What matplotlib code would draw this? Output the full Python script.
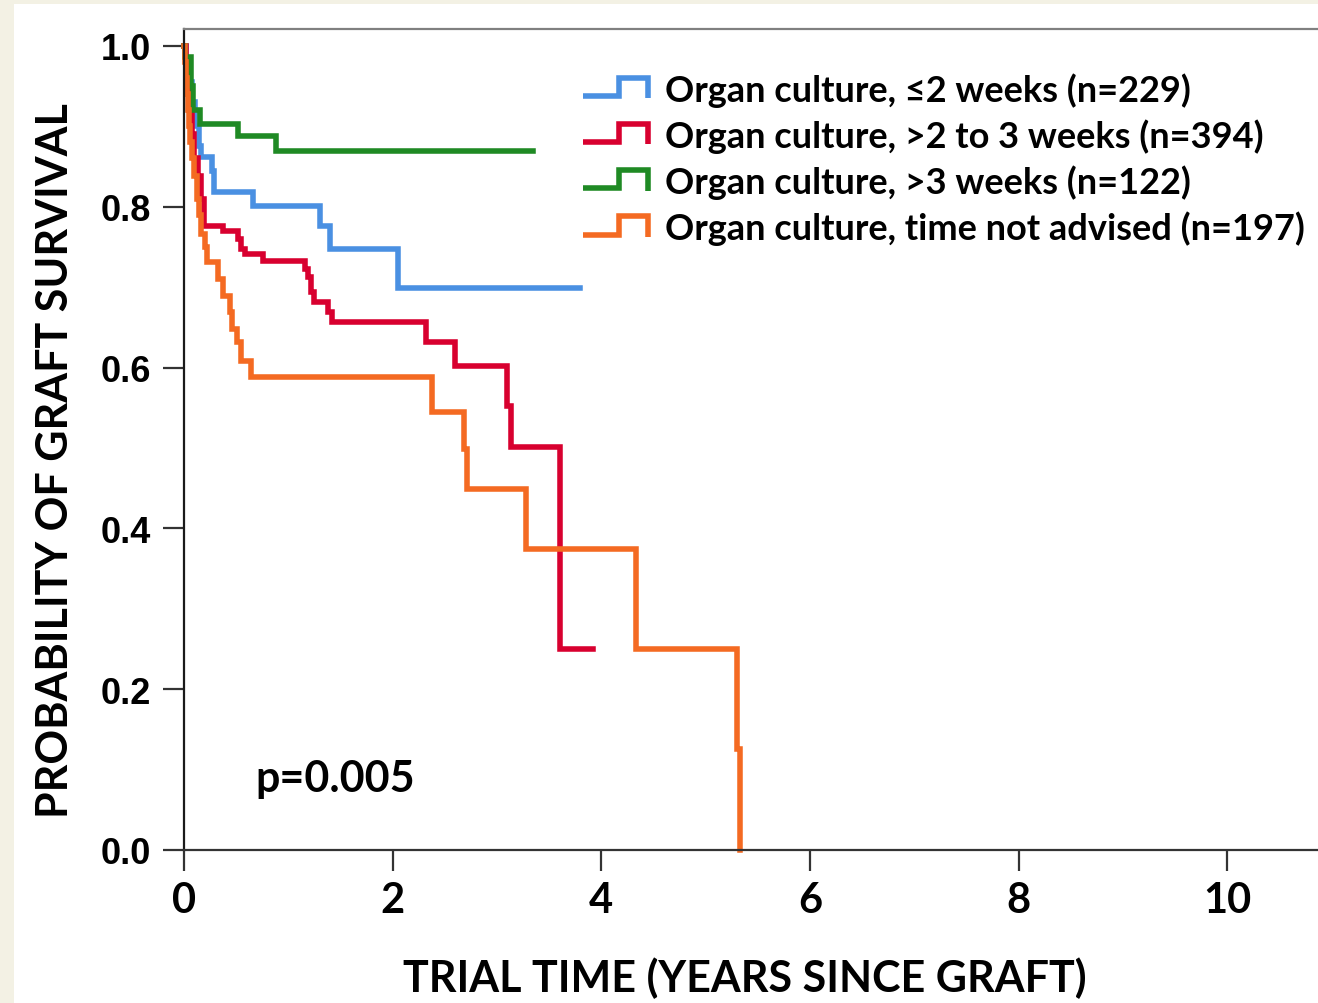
import matplotlib
matplotlib.use("Agg")
import matplotlib.pyplot as plt
from matplotlib.legend_handler import HandlerBase
from matplotlib.lines import Line2D
from matplotlib.patches import Rectangle

# Kaplan-Meier steps (time in years, survival after the step)
blue_t = [0, 0.02, 0.05, 0.08, 0.11, 0.14, 0.16, 0.27, 0.29, 0.66, 1.30, 1.40, 2.05, 3.80]
blue_s = [1.0, 0.97, 0.955, 0.93, 0.90, 0.875, 0.862, 0.845, 0.818, 0.801, 0.776, 0.747, 0.699, 0.699]

red_t = [0, 0.02, 0.04, 0.06, 0.08, 0.10, 0.13, 0.16, 0.19, 0.37, 0.52, 0.55, 0.585,
         0.76, 1.16, 1.19, 1.22, 1.25, 1.38, 1.42, 2.32, 2.60, 3.10, 3.13, 3.60, 3.92]
red_s = [1.0, 0.975, 0.95, 0.92, 0.89, 0.86, 0.838, 0.81, 0.776, 0.770, 0.760, 0.747, 0.741,
         0.733, 0.723, 0.713, 0.694, 0.682, 0.669, 0.657, 0.632, 0.602, 0.552, 0.501, 0.25, 0.25]

green_t = [0, 0.01, 0.07, 0.09, 0.15, 0.52, 0.88, 3.35]
green_s = [1.0, 0.986, 0.95, 0.92, 0.903, 0.888, 0.869, 0.869]

orange_t = [0, 0.01, 0.02, 0.03, 0.04, 0.05, 0.06, 0.08, 0.10, 0.12, 0.14, 0.16, 0.20, 0.22,
            0.33, 0.37, 0.44, 0.46, 0.51, 0.55, 0.64, 2.38, 2.68, 2.71, 3.28, 4.33, 5.30, 5.33]
orange_s = [1.0, 0.98, 0.96, 0.94, 0.92, 0.90, 0.88, 0.86, 0.838, 0.81, 0.79, 0.766, 0.75, 0.731,
            0.71, 0.689, 0.669, 0.648, 0.632, 0.608, 0.588, 0.545, 0.499, 0.449, 0.374, 0.25, 0.125, 0.0]

labels = [
    "Organ culture, \u22642 weeks (n=229)",
    "Organ culture, >2 to 3 weeks (n=394)",
    "Organ culture, >3 weeks (n=122)",
    "Organ culture, time not advised (n=197)",
]
colors = ["#4a90e2", "#d8002f", "#1f8a24", "#f46a22"]
x_ticks = [0, 2, 4, 6, 8, 10]
y_ticks = [0.0, 0.2, 0.4, 0.6, 0.8, 1.0]

LW = 4.0
TXT = "Lato"


class StepHandler(HandlerBase):
    # legend glyph shaped like a small survival step
    def create_artists(self, legend, orig_handle, xdescent, ydescent, width, height, fontsize, trans):
        x0, y0 = -xdescent, -ydescent
        xs = [x0, x0 + 0.55 * width, x0 + 0.55 * width, x0 + width, x0 + width]
        ys = [y0 + 0.15 * height, y0 + 0.15 * height, y0 + 0.95 * height, y0 + 0.95 * height, y0 + 0.05 * height]
        line = Line2D(xs, ys, color=orig_handle.get_color(), lw=LW,
                      solid_joinstyle="miter", solid_capstyle="butt")
        line.set_transform(trans)
        return [line]


fig = plt.figure(figsize=(13.18, 10.04), dpi=100)
fig.patch.set_facecolor("#f3f1e4")
fig.patches.append(Rectangle((14 / 1318, 0), 1, 999 / 1004, transform=fig.transFigure,
                             facecolor="white", edgecolor="none", zorder=-10))

ax = fig.add_axes([184 / 1318, 153 / 1004, 1134 / 1318, 821 / 1004])
ax.set_facecolor("white")

series = [(blue_t, blue_s), (red_t, red_s), (green_t, green_s), (orange_t, orange_s)]
handles = []
for (t, s), c, lab in zip(series, colors, labels):
    (ln,) = ax.step(t, s, where="post", color=c, lw=LW, label=lab, clip_on=False,
                    solid_joinstyle="miter")
    handles.append(ln)

ax.set_xlim(0, 10.87)
ax.set_ylim(0, 1.021)

for side in ["left", "bottom", "top"]:
    ax.spines[side].set_linewidth(1.6)
ax.spines["left"].set_color("#1a1a1a")
ax.spines["bottom"].set_color("#333333")
ax.spines["top"].set_color("#808080")
ax.spines["right"].set_visible(False)

ax.set_xticks(x_ticks)
ax.set_xticklabels([str(v) for v in x_ticks])
ax.set_yticks(y_ticks)
ax.set_yticklabels([f"{v:.1f}" for v in y_ticks])
ax.tick_params(axis="both", length=15, width=1.6, color="#333333")
ax.tick_params(axis="x", pad=7)
ax.tick_params(axis="y", pad=9)
for lab in ax.get_xticklabels():
    lab.set_fontfamily(TXT)
    lab.set_fontweight("bold")
    lab.set_fontsize(30)
for lab in ax.get_yticklabels():
    lab.set_fontfamily("Liberation Sans")
    lab.set_fontweight("bold")
    lab.set_fontsize(26)

ax.set_xlabel("TRIAL TIME (YEARS SINCE GRAFT)", fontfamily=TXT, fontweight="bold",
              fontsize=31, va="center")
ax.xaxis.set_label_coords((745 - 184) / 1134, (851 - 978) / 821)
ax.set_ylabel("PROBABILITY OF GRAFT SURVIVAL", fontfamily=TXT, fontweight="bold",
              fontsize=31, va="center")
ax.yaxis.set_label_coords((55 - 184) / 1134, (851 - 461) / 821)

ax.text(0.68, 0.09, "p=0.005", fontfamily=TXT, fontweight="bold", fontsize=31,
        ha="left", va="center")

ax.legend(handles=handles, labels=labels, handler_map={Line2D: StepHandler()},
          loc="upper left", bbox_to_anchor=((583 - 184) / 1134, (851 - 73) / 821),
          frameon=False, borderpad=0, borderaxespad=0, handlelength=1.8,
          handleheight=0.6, handletextpad=0.47, labelspacing=0.32,
          prop={"family": TXT, "weight": "bold", "size": 26})

fig.savefig("out.png", dpi=100, facecolor=fig.get_facecolor())
